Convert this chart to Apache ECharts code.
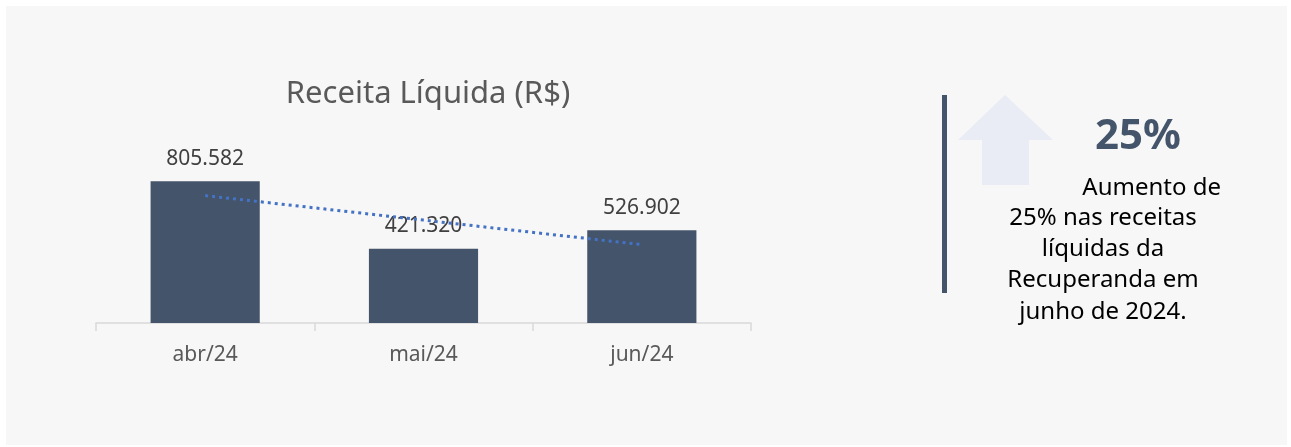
<!DOCTYPE html>
<html>
<head>
<meta charset="utf-8">
<script src="https://cdn.jsdelivr.net/npm/echarts@6/dist/echarts.min.js"></script>
<style>
  html, body { margin: 0; padding: 0; background: #ffffff; }
  #receita { width: 1291px; height: 447px; }
</style>
</head>
<body>
<div id="receita"></div>
<script>
  // dados do gráfico
  const meses = ['abr/24', 'mai/24', 'jun/24'];
  const receita = [805582, 421320, 526902];
  // linha de tendência
  const tendencia = [724000, 584600, 445300];
  const destaque = '25%';
  const textoDestaque = ['Aumento de', '25% nas receitas', 'líquidas da', 'Recuperanda em', 'junho de 2024.'];

  const fonte = '"Noto Sans", "Open Sans", sans-serif';
  let chart = echarts.init(document.getElementById('receita'));

  let graficos = [
    {
      type: 'rect', z: -10, silent: true,
      shape: { x: 6, y: 6, width: 1281, height: 439 },
      style: { fill: '#f7f7f7' }
    },
    {
      type: 'rect', silent: true,
      shape: { x: 942, y: 95, width: 5, height: 198 },
      style: { fill: '#44546a' }
    },
    {
      type: 'polygon', silent: true,
      shape: { points: [[1005, 95], [1053, 140], [1029, 140], [1029, 185], [982, 185], [982, 140], [958, 140]] },
      style: { fill: '#e9ecf5' }
    },
    {
      type: 'text', silent: true,
      x: 1138, y: 137,
      style: { text: destaque, fill: '#44546a', font: 'bold 42px ' + fonte, align: 'center', verticalAlign: 'middle' }
    }
  ];
  const linhasY = [188, 218, 249, 280, 312];
  textoDestaque.forEach((t, i) => {
    graficos.push({
      type: 'text', silent: true,
      x: i === 0 ? 1221 : 1103, y: linhasY[i],
      style: { text: t, fill: '#000000', font: '24px ' + fonte, align: i === 0 ? 'right' : 'center', verticalAlign: 'middle' }
    });
  });

  let option = {
    backgroundColor: '#ffffff',
    animation: false,
    title: {
      text: 'Receita Líquida (R$)',
      left: 423,
      top: 74,
      textAlign: 'center',
      textStyle: { color: '#595959', fontSize: 31, fontWeight: 'normal', fontFamily: fonte }
    },
    grid: {
      left: 96,
      width: 655,
      top: 147,
      bottom: 124
    },
    xAxis: {
      type: 'category',
      data: meses,
      axisLine: { lineStyle: { color: '#d9d9d9', width: 1.5 } },
      axisTick: { show: true, length: 8, lineStyle: { color: '#d9d9d9', width: 1.5 } },
      axisLabel: { color: '#595959', fontSize: 21, margin: 22, fontFamily: fonte }
    },
    yAxis: {
      type: 'value',
      min: 0,
      max: 1000000,
      show: false
    },
    series: [
      {
        name: 'Receita',
        type: 'bar',
        data: receita,
        barWidth: '50%',
        itemStyle: { color: '#44546a' },
        label: {
          show: true,
          position: 'top',
          distance: 12,
          color: '#404040',
          fontSize: 21,
          fontFamily: fonte,
          formatter: p => p.value.toLocaleString('pt-BR')
        },
        z: 2
      },
      {
        name: 'Tendência',
        type: 'line',
        data: tendencia,
        symbol: 'none',
        lineStyle: { color: '#4472c4', width: 3, type: [3, 4] },
        z: 3
      }
    ],
    graphic: graficos
  };
  chart.setOption(option);
</script>
</body>
</html>
